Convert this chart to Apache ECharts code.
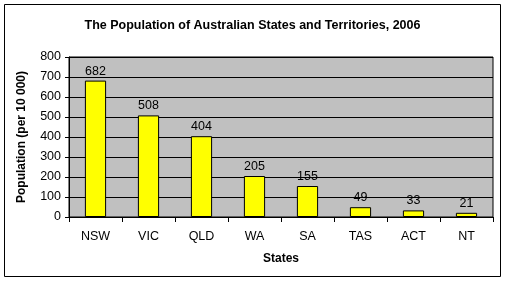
<!DOCTYPE html>
<html><head><meta charset="utf-8">
<script src="https://cdn.jsdelivr.net/npm/echarts@6/dist/echarts.min.js"></script>
<style>html,body{margin:0;padding:0;background:#fff}#c{width:505px;height:281px}</style>
</head><body><div id="c"></div>
<script>
const categories = ['NSW','VIC','QLD','WA','SA','TAS','ACT','NT'];
const population = [682,508,404,205,155,49,33,21];
const yTicks = [0,100,200,300,400,500,600,700,800];

const chart = echarts.init(document.getElementById('c'), null, {renderer:'canvas'});
chart.setOption({
  animation:false,
  backgroundColor:'#fff',
  title:{text:'The Population of Australian States and Territories, 2006',left:'center',top:14,
    textStyle:{fontFamily:'Arial, Liberation Sans',fontSize:12.5,fontWeight:'bold',color:'#000'}},
  graphic:[{type:'rect',shape:{x:4.5,y:4.5,width:496,height:272},style:{fill:'none',stroke:'#000',lineWidth:1},silent:true}],
  grid:{left:69,right:12,top:57,bottom:64,show:true,backgroundColor:'#c0c0c0',borderColor:'#000',borderWidth:1},
  xAxis:{type:'category',data:categories,
    name:'States',nameLocation:'middle',nameGap:36,
    nameTextStyle:{fontFamily:'Arial, Liberation Sans',fontSize:12,fontWeight:'bold',color:'#000'},
    axisLine:{lineStyle:{color:'#000'}},axisTick:{show:true,length:5,lineStyle:{color:'#000'}},
    axisLabel:{fontFamily:'Arial, Liberation Sans',fontSize:12.5,color:'#000',margin:13}},
  yAxis:{type:'value',min:0,max:800,interval:100,
    name:'Population (per 10 000)',nameLocation:'middle',nameGap:41,
    nameTextStyle:{fontFamily:'Arial, Liberation Sans',fontSize:12,fontWeight:'bold',color:'#000'},
    axisLine:{show:true,lineStyle:{color:'#000'}},axisTick:{show:true,length:4,inside:false,lineStyle:{color:'#000'}},
    splitLine:{lineStyle:{color:'#000'}},
    axisLabel:{fontFamily:'Arial, Liberation Sans',fontSize:12.5,color:'#000',margin:8,
      formatter:v=>yTicks.includes(v)?String(v):''}},
  series:[{type:'bar',data:population,barWidth:'40%',
    itemStyle:{color:'#ffff00',borderColor:'#000',borderWidth:1},
    label:{show:true,position:'top',distance:3,fontFamily:'Arial, Liberation Sans',fontSize:12.5,color:'#000'}}]
});
</script></body></html>
